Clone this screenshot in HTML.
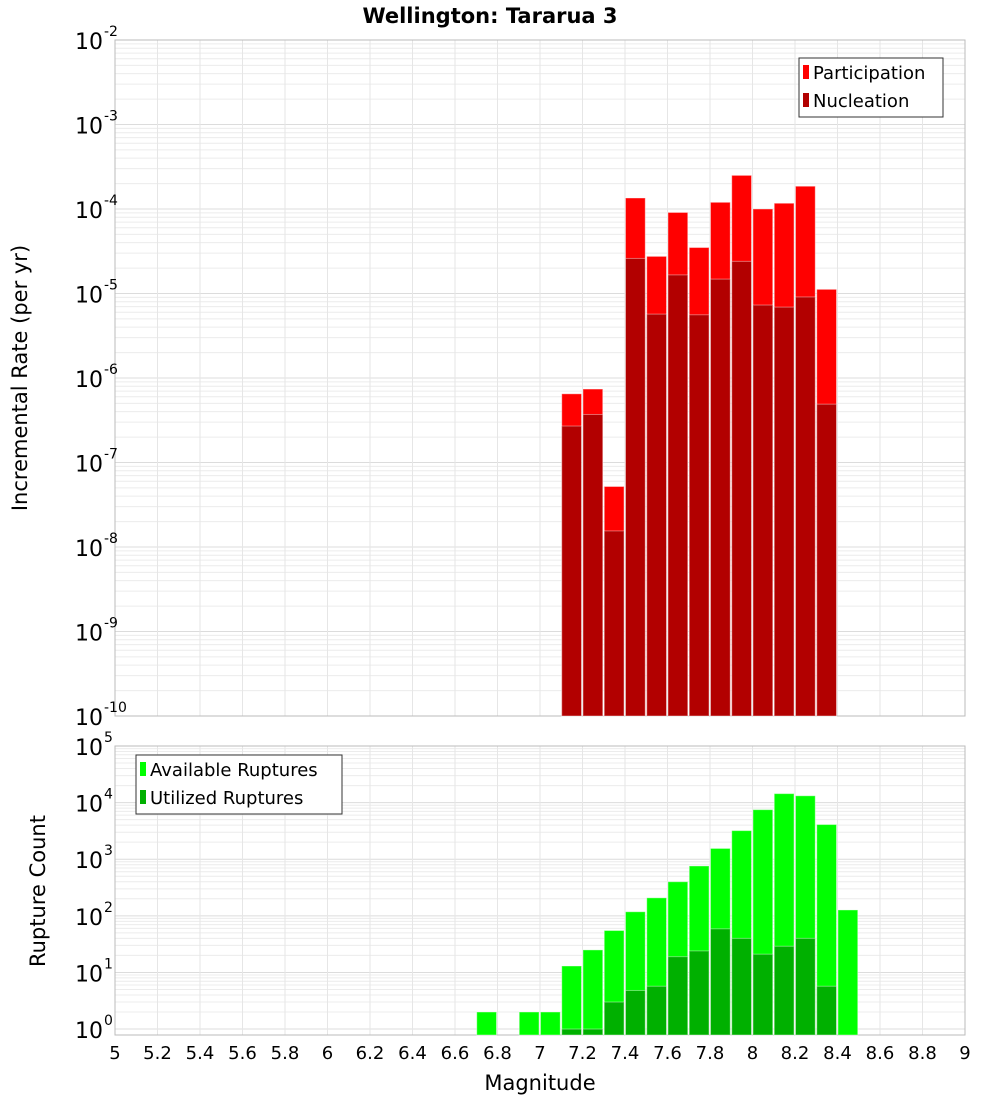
<!DOCTYPE html>
<html><head><meta charset="utf-8"><style>
body{margin:0;background:#fff;font-family:"Liberation Sans","DejaVu Sans",sans-serif}
</style></head><body>
<svg id="c" width="1000" height="1100" xmlns="http://www.w3.org/2000/svg" font-family="DejaVu Sans, Liberation Sans, sans-serif">
<text x="490" y="23" text-anchor="middle" font-weight="bold" font-size="21">Wellington: Tararua 3</text>
<g id="g1"></g><g id="g2"></g>
<text transform="translate(27,378) rotate(-90)" text-anchor="middle" font-size="21">Incremental Rate (per yr)</text>
<text transform="translate(45,891) rotate(-90)" text-anchor="middle" font-size="21">Rupture Count</text>
<text x="540" y="1090" text-anchor="middle" font-size="21">Magnitude</text>
</svg>
<script>
const bins=[6.75,6.95,7.05,7.15,7.25,7.35,7.45,7.55,7.65,7.75,7.85,7.95,8.05,8.15,8.25,8.35,8.45];
const partBins=[7.15,7.25,7.35,7.45,7.55,7.65,7.75,7.85,7.95,8.05,8.15,8.25,8.35];
const participation=[6.5e-7,7.4e-7,5.2e-8,1.35e-4,2.75e-5,9.1e-5,3.5e-5,1.2e-4,2.5e-4,1.0e-4,1.17e-4,1.86e-4,1.12e-5];
const nucleation=[2.7e-7,3.7e-7,1.55e-8,2.6e-5,5.7e-6,1.66e-5,5.6e-6,1.48e-5,2.4e-5,7.3e-6,6.9e-6,9.1e-6,4.9e-7];
const available=[2,2,2,13,25,55,118,208,400,760,1550,3200,7500,14400,13200,4100,127];
const utilized=[0,0,0,1,1,3,4.8,5.7,19,24,59,40,21,29,40,5.7,0];
const xTicks=[5,5.2,5.4,5.6,5.8,6,6.2,6.4,6.6,6.8,7,7.2,7.4,7.6,7.8,8,8.2,8.4,8.6,8.8,9];
const topExp=[-10,-9,-8,-7,-6,-5,-4,-3,-2];
const botExp=[0,1,2,3,4,5];
const NS="http://www.w3.org/2000/svg";
const X0=115,X1=965;
const xs=m=>X0+(m-5)/4*(X1-X0);
function yTop(v){return 40+(-2-Math.log10(v))*(676/8);}
function yBot(v){const lo=Math.log10(0.785);return 1035-(Math.log10(v)-lo)/(5-lo)*289;}
function mk(p,t,a){const e=document.createElementNS(NS,t);for(const k in a)e.setAttribute(k,a[k]);p.appendChild(e);return e;}
function panel(g,ytop,ybot,yf,exps,minV,name){
  for(const e of exps){for(let k=1;k<10;k++){const v=k*Math.pow(10,e);const y=yf(v);if(y<ytop-0.5||y>ybot+0.5)continue;
    const l=mk(g,'line',{x1:X0,x2:X1,y1:y,y2:y,stroke:k==1?'#dcdcdc':'#ececec','stroke-width':1});
    
    }}
  for(const t of xTicks){const x=xs(t);const l=mk(g,'line',{x1:x,x2:x,y1:ytop,y2:ybot,stroke:'#e6e6e6'});
    
    }
  const r=mk(g,'rect',{x:X0,y:ytop,width:X1-X0,height:ybot-ytop,fill:'none',stroke:'#bbb'});
  
  
  for(const e of exps){const y=yf(Math.pow(10,e));const t=mk(g,'text',{x:103,y:y+9,'text-anchor':'end','font-size':22});
    
    
    t.textContent='10';
    const s=mk(g,'text',{x:104,y:y-4,'font-size':14});
    
    
    s.textContent=String(e);}
}
const g1=document.getElementById('g1'),g2=document.getElementById('g2');
panel(g1,40,716,yTop,topExp,1e-10,'top');
panel(g2,746,1035,yBot,botExp,0.785,'bottom');
function bar(g,m,v,yf,base,fill,name){if(!(v>0))return;const x=xs(m-0.05)+0.5,w=xs(m+0.05)-xs(m-0.05)-1.5;const y=yf(v);
  const r=mk(g,'rect',{x:x,y:y,width:w,height:base-y,fill:fill,stroke:'#fff','stroke-opacity':0.4,'stroke-width':1});
  
  }
partBins.forEach((m,i)=>bar(g1,m,participation[i],yTop,716,'#ff0000','participation-bar'));
partBins.forEach((m,i)=>bar(g1,m,nucleation[i],yTop,716,'#b20000','nucleation-bar'));
bins.forEach((m,i)=>bar(g2,m,available[i],yBot,1035,'#00ff00','available-bar'));
bins.forEach((m,i)=>bar(g2,m,utilized[i],yBot,1035,'#00b000','utilized-bar'));
for(const t of xTicks){const tx=mk(g2,'text',{x:xs(t),y:1059,'text-anchor':'middle','font-size':18});
  
  
  tx.textContent=String(t);}
function legend(g,x,y,w,items,name){const r=mk(g,'rect',{x:x,y:y,width:w,height:59,fill:'#fff',stroke:'#333'});
  
  
  items.forEach((it,i)=>{const yy=y+15+i*28;const s=mk(g,'rect',{x:x+4,y:yy-8,width:6,height:14,fill:it[1]});
    
    
    const t=mk(g,'text',{x:x+14,y:yy+6,'font-size':18});
    
    
    t.textContent=it[0];});}
legend(g1,799,58,144,[['Participation','#ff0000'],['Nucleation','#b20000']],'legend-top');
legend(g2,136,755,206,[['Available Ruptures','#00ff00'],['Utilized Ruptures','#00b000']],'legend-bottom');
</script>
</body></html>
